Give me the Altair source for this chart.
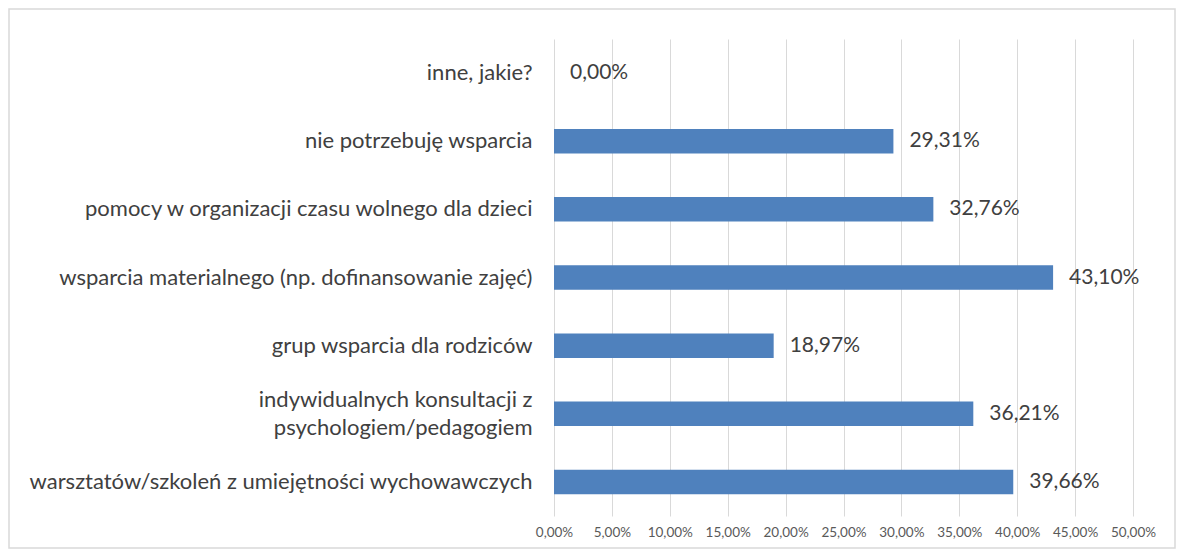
import altair as alt
import pandas as pd

categories = [
    "inne, jakie?",
    "nie potrzebuję wsparcia",
    "pomocy w organizacji czasu wolnego dla dzieci",
    "wsparcia materialnego (np. dofinansowanie zajęć)",
    "grup wsparcia dla rodziców",
    "indywidualnych konsultacji z|psychologiem/pedagogiem\u00a0",
    "warsztatów/szkoleń z umiejętności wychowawczych",
]
values = [0.0, 29.31, 32.76, 43.10, 18.97, 36.21, 39.66]
tick_values = [0, 5, 10, 15, 20, 25, 30, 35, 40, 45, 50]

df = pd.DataFrame({
    "cat": categories,
    "val": [v / 100 for v in values],
    "label": [f"{v:.2f}%".replace(".", ",") for v in values],
})

FONT = "Lato"
W, H = 579, 477
PL, PT, PR, PB = 546, 31, 43, 33

y_enc = alt.Y(
    "cat:N",
    sort=categories,
    title=None,
    scale=alt.Scale(paddingInner=0.64, paddingOuter=0.32),
    axis=alt.Axis(
        labelExpr="split(datum.label, '|')",
        labelFont=FONT,
        labelFontSize=22,
        labelColor="#404040",
        labelPadding=22,
        labelLineHeight=28,
        labelOffset=alt.condition("indexof(datum.label, '|') >= 0", alt.value(-14), alt.value(0)),
        ticks=False,
        domain=False,
        labelLimit=700,
    ),
)
x_enc = alt.X(
    "val:Q",
    title=None,
    scale=alt.Scale(domain=[0, 0.5], nice=False),
    axis=alt.Axis(
        values=[t / 100 for t in tick_values],
        labelExpr="replace(format(datum.value, '.2%'), '.', ',')",
        labelFont=FONT,
        labelFontSize=13.5,
        labelColor="#595959",
        labelPadding=9,
        labelOverlap=False,
        labelFlush=False,
        ticks=False,
        domain=False,
        grid=True,
        gridColor="#D9D9D9",
        gridWidth=1,
    ),
)

bars = alt.Chart(df).mark_bar(color="#4F81BD").encode(x=x_enc, y=y_enc)
texts = alt.Chart(df).mark_text(
    align="left", baseline="middle", dx=16, font=FONT, fontSize=21, color="#404040"
).encode(x="val:Q", y=alt.Y("cat:N", sort=categories), text="label:N")

border = alt.Chart(pd.DataFrame({"a": [0]})).mark_rect(
    fill=None, stroke="#D9D9D9", strokeWidth=1.5
).encode(
    x=alt.value(-PL + 1),
    x2=alt.value(W + PR - 1),
    y=alt.value(-PT + 1),
    y2=alt.value(H + PB - 1),
)

chart = alt.layer(border, bars, texts).properties(
    width=W,
    height=H,
    padding={"left": PL, "top": PT, "right": PR, "bottom": PB},
    autosize=alt.AutoSizeParams(type="none"),
    background="white",
).configure_view(stroke=None)

chart.save("out.html", embed_options={"renderer": "svg", "actions": False})
